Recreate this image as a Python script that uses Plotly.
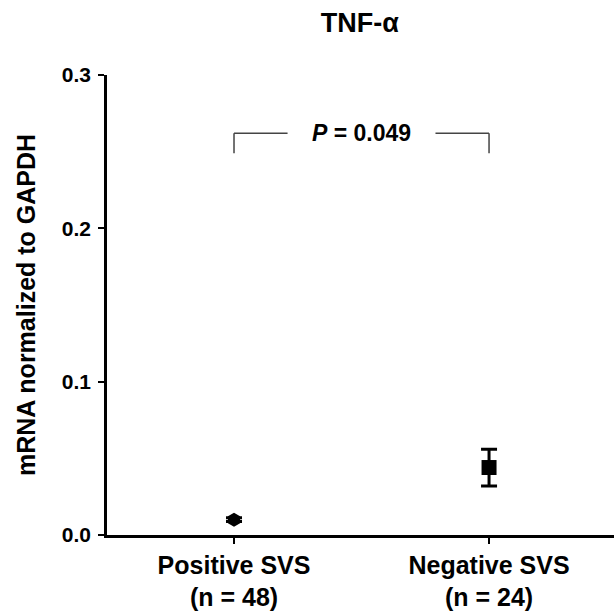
import plotly.graph_objects as go

categories = ["Positive SVS<br>(n = 48)", "Negative SVS<br>(n = 24)"]
means = [0.010, 0.044]
sems = [0.0012, 0.012]
symbols = ["hexagon", "square"]
y_ticks = [0.0, 0.1, 0.2, 0.3]
y_ticklabels = ["0.0", "0.1", "0.2", "0.3"]
p_text = "<i>P</i> = 0.049"
bracket_top = 0.262
bracket_bottom = 0.249

xpos = list(range(len(categories)))
FONT = "Liberation Sans, Arial, sans-serif"

fig = go.Figure()
for i in xpos:
    fig.add_trace(go.Scatter(
        x=[xpos[i]], y=[means[i]], mode="markers",
        marker=dict(symbol=symbols[i], size=14 if i == 0 else 15, color="black"),
        error_y=dict(type="data", array=[sems[i]], visible=True, color="black",
                     thickness=3, width=8),
        showlegend=False,
    ))

# significance bracket
gap_l, gap_r = 0.21, 0.79
line_style = dict(color="#444", width=1.5)
fig.add_shape(type="line", x0=xpos[0], x1=xpos[0], y0=bracket_bottom, y1=bracket_top, line=line_style)
fig.add_shape(type="line", x0=xpos[0], x1=gap_l, y0=bracket_top, y1=bracket_top, line=line_style)
fig.add_shape(type="line", x0=gap_r, x1=xpos[1], y0=bracket_top, y1=bracket_top, line=line_style)
fig.add_shape(type="line", x0=xpos[1], x1=xpos[1], y0=bracket_bottom, y1=bracket_top, line=line_style)
fig.add_annotation(x=0.5, y=bracket_top, text="<b>" + p_text + "</b>", showarrow=False,
                   font=dict(family=FONT, size=23, color="black"), yanchor="middle")

fig.update_layout(
    width=614, height=611,
    margin=dict(l=107, r=0, t=75, b=72),
    paper_bgcolor="white", plot_bgcolor="white",
    title=dict(text="<b>TNF-α</b>", x=0.586, xanchor="center", y=0.963, yanchor="middle",
               font=dict(family=FONT, size=27, color="black")),
    xaxis=dict(range=[-0.498, 1.49], tickvals=xpos, ticktext=["<b>" + c + "</b>" for c in categories],
               tickfont=dict(family=FONT, size=25, color="black"),
               showgrid=False, zeroline=False, showline=True, linecolor="black", linewidth=2.5,
               ticks="outside", ticklen=6, tickwidth=2, tickcolor="black"),
    yaxis=dict(range=[0, 0.3], tickvals=y_ticks, ticktext=["<b>" + t + "</b>" for t in y_ticklabels],
               tickfont=dict(family=FONT, size=21, color="black"),
               showgrid=False, zeroline=False, showline=True, linecolor="black", linewidth=2.5,
               ticks="outside", ticklen=6, tickwidth=2, tickcolor="black",
               ticklabelstandoff=3,
               title=dict(text="<b>mRNA normalized to GAPDH</b>", standoff=20,
                          font=dict(family=FONT, size=25, color="black"))),
)

fig.write_html("out.html", config={"displayModeBar": False},
               post_script="document.body.style.margin='0';document.body.style.overflow='hidden';")
